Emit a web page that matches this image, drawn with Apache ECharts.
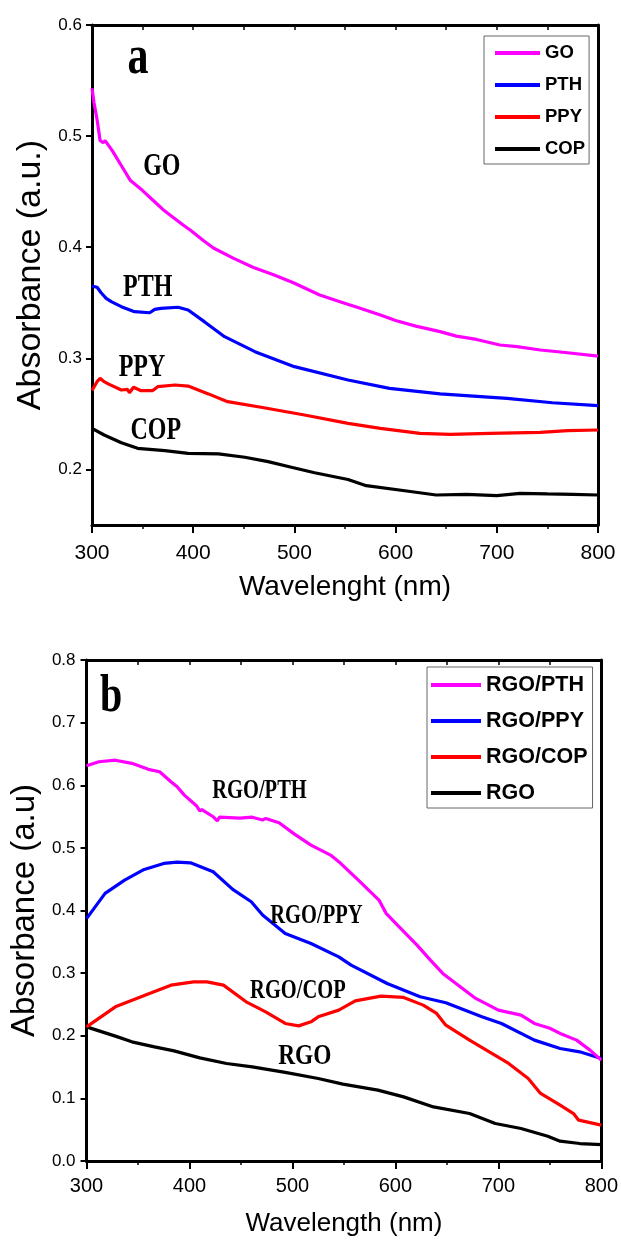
<!DOCTYPE html>
<html><head><meta charset="utf-8">
<script src="https://cdn.jsdelivr.net/npm/echarts@6/dist/echarts.min.js"></script>
<style>html,body{margin:0;padding:0;background:#fff}#c{width:621px;height:1243px}</style>
</head><body><div id="c"></div><script>
// ---------- Panel a data ----------
const goX  = [300,302,305,308,311,313,320,330,338,350,360,370,380,390,397,410,420,440,459,480,499,525,545,565,585,600,620,644,660,680,703,720,743,770,800];
const goY  = [0.543,0.53,0.515,0.496,0.494,0.496,0.487,0.472,0.46,0.451,0.4425,0.434,0.427,0.42,0.4155,0.406,0.3993,0.39,0.382,0.375,0.368,0.357,0.351,0.345,0.339,0.334,0.329,0.324,0.32,0.317,0.312,0.3105,0.3075,0.305,0.302];
const pthX = [300,305,309,314,319,329,342,357,362,368,385,395,411,431,461,500,553,594,644,710,755,800];
const pthY = [0.365,0.364,0.359,0.354,0.351,0.3465,0.342,0.341,0.344,0.345,0.346,0.3435,0.333,0.3195,0.306,0.2925,0.2805,0.273,0.268,0.264,0.26,0.2575];
const ppyX = [300,305,308,312,316,329,335,337,341,348,360,365,382,395,415,434,467,510,553,585,624,654,693,743,770,800];
const ppyY = [0.271,0.279,0.282,0.279,0.277,0.2715,0.272,0.269,0.274,0.271,0.271,0.2745,0.276,0.275,0.268,0.261,0.256,0.249,0.2415,0.237,0.2325,0.2316,0.2325,0.2334,0.235,0.2355];
const copX = [300,312,329,345,372,395,425,451,474,497,520,553,571,611,640,670,700,723,750,775,800];
const copY = [0.237,0.231,0.224,0.219,0.217,0.2145,0.214,0.211,0.207,0.202,0.197,0.191,0.1854,0.1806,0.177,0.1775,0.1764,0.1785,0.178,0.1776,0.177];

// ---------- Panel b data ----------
const rPthX = [300,312,328,344,360,371,382,388,395,407,410,412,423,427,429,449,461,471,474,487,502,518,537,545,564,584,591,602,621,634,646,678,700,722,735,750,760,776,789,800];
const rPthY = [0.631,0.6375,0.640,0.635,0.6254,0.6216,0.6056,0.5976,0.5843,0.5668,0.559,0.561,0.5497,0.543,0.549,0.5476,0.549,0.5444,0.547,0.54,0.522,0.5045,0.4885,0.478,0.4486,0.4166,0.3954,0.3767,0.3447,0.3208,0.2995,0.2596,0.2409,0.2329,0.2196,0.212,0.2037,0.193,0.177,0.161];
const rPpyX = [300,318,337,356,375,388,401,423,442,460,471,493,518,545,557,592,624,649,684,703,735,760,779,800];
const rPpyY = [0.387,0.4273,0.4486,0.4656,0.4752,0.4773,0.4762,0.4618,0.4337,0.4139,0.3927,0.3634,0.3474,0.326,0.3128,0.2835,0.2622,0.2526,0.2302,0.2196,0.193,0.1797,0.1743,0.1637];
const rCopX = [300,328,363,382,404,417,433,455,474,493,506,518,525,545,561,586,608,627,640,649,672,710,729,741,760,773,778,800];
const rCopY = [0.2142,0.2462,0.2685,0.2808,0.2861,0.2861,0.2808,0.2542,0.2382,0.2196,0.2158,0.2222,0.2302,0.2409,0.2558,0.2633,0.2612,0.2489,0.2356,0.2169,0.193,0.1557,0.1318,0.1078,0.0891,0.0758,0.0652,0.0572];
const rgoX = [300,328,344,366,385,410,436,461,493,525,549,583,608,637,672,697,722,748,760,779,800];
const rgoY = [0.2142,0.1994,0.1903,0.1823,0.1759,0.1647,0.1557,0.1504,0.1414,0.1318,0.1227,0.1131,0.1024,0.0864,0.0758,0.0599,0.0519,0.0396,0.0316,0.0279,0.0263];

const namesA = ['GO','PTH','PPY','COP'];
const namesB = ['RGO/PTH','RGO/PPY','RGO/COP','RGO'];
const colors = ['#FF00FF','#0000FF','#FF0000','#000000'];
const yTicksA = [0.2,0.3,0.4,0.5,0.6];

// annotations: [text, wavelength, absorbance]
const annotA = [['a',345.5,0.5694],['GO',369,0.4722],['PTH',355,0.3633],['PPY',349.4,0.2913],['COP',363,0.2349]];
const annotB = [['b',323.8,0.7393],['RGO/PTH',468,0.5907],['RGO/PPY',523.3,0.391],['RGO/COP',505.3,0.2712],['RGO',512,0.1674]];

const zip = (xs, ys) => xs.map((x, i) => [x, ys[i]]);
const SANS = "'Liberation Sans', Arial, sans-serif";
const SERIF = "'Liberation Serif', 'Times New Roman', serif";

const chart = echarts.init(document.getElementById('c'), null, {renderer: 'canvas'});

function bottomX(gi, name, fs, margin, gap, nfs) {
  return {
    type: 'value', gridIndex: gi, position: 'bottom', min: 300, max: 800, interval: 100,
    axisLine: {show: true, onZero: false, lineStyle: {color: '#000', width: 3}},
    axisTick: {show: true, inside: false, length: 8, lineStyle: {color: '#000', width: 2}},
    minorTick: {show: true, splitNumber: 2, length: 4, lineStyle: {color: '#000', width: 1.5}},
    axisLabel: {fontSize: fs, color: '#000', margin: margin, fontFamily: SANS},
    splitLine: {show: false},
    name: name, nameLocation: 'middle', nameGap: gap,
    nameTextStyle: {fontSize: nfs, color: '#000', fontFamily: SANS}
  };
}
function topX(gi) {
  return {
    type: 'value', gridIndex: gi, position: 'top', min: 300, max: 800, interval: 50,
    axisLine: {show: true, onZero: false, lineStyle: {color: '#000', width: 3}},
    axisTick: {show: true, inside: true, length: 5, lineStyle: {color: '#000', width: 1.5}},
    axisLabel: {show: false}, splitLine: {show: false}
  };
}
function rightY(gi, min, max, interval) {
  return {
    type: 'value', gridIndex: gi, position: 'right', min: min, max: max, interval: interval,
    axisLine: {show: true, onZero: false, lineStyle: {color: '#000', width: 3}},
    axisTick: {show: false}, axisLabel: {show: false}, splitLine: {show: false}
  };
}

const seriesA = [[goX,goY],[pthX,pthY],[ppyX,ppyY],[copX,copY]].map((d, i) => ({
  name: namesA[i], type: 'line', xAxisIndex: 0, yAxisIndex: 0, data: zip(d[0], d[1]),
  showSymbol: false, symbol: 'none', smooth: false,
  lineStyle: {color: colors[i], width: 3.2}, itemStyle: {color: colors[i]}, z: 10 - i
}));
const seriesB = [[rPthX,rPthY],[rPpyX,rPpyY],[rCopX,rCopY],[rgoX,rgoY]].map((d, i) => ({
  name: namesB[i], type: 'line', xAxisIndex: 2, yAxisIndex: 2, data: zip(d[0], d[1]),
  showSymbol: false, symbol: 'none', smooth: false,
  lineStyle: {color: colors[i], width: 3.2}, itemStyle: {color: colors[i]}, z: 10 - i
}));

const option = {
  animation: false,
  backgroundColor: '#fff',
  grid: [
    {left: 92, top: 25, width: 506, height: 500, containLabel: false},
    {left: 78, top: 660, width: 525, height: 501, containLabel: false}
  ],
  xAxis: [
    bottomX(0, 'Wavelenght (nm)', 21, 18, 48, 28),
    topX(0),
    bottomX(1, 'Wavelength (nm)', 20, 15, 50, 26),
    topX(1)
  ],
  yAxis: [
    {
      type: 'value', gridIndex: 0, position: 'left', min: 0.15, max: 0.6, interval: 0.05,
      axisLine: {show: true, onZero: false, lineStyle: {color: '#000', width: 3}},
      axisTick: {show: true, inside: false, length: 6, customValues: yTicksA, lineStyle: {color: '#000', width: 2}},
      axisLabel: {fontSize: 17, color: '#000', margin: 10, fontFamily: SANS, customValues: yTicksA,
        formatter: v => (Math.abs(v * 10 - Math.round(v * 10)) < 1e-6 ? v.toFixed(1) : '')},
      splitLine: {show: false},
      name: 'Absorbance (a.u.)', nameLocation: 'middle', nameGap: 33,
      nameTextStyle: {fontSize: 34, color: '#000', fontFamily: SANS}
    },
    rightY(0, 0.15, 0.6, 0.05),
    {
      type: 'value', gridIndex: 1, position: 'left', min: 0, max: 0.8, interval: 0.1,
      axisLine: {show: true, onZero: false, lineStyle: {color: '#000', width: 3}},
      axisTick: {show: true, inside: false, length: 6, lineStyle: {color: '#000', width: 2}},
      axisLabel: {fontSize: 17, color: '#000', margin: 11, fontFamily: SANS, formatter: v => v.toFixed(1)},
      splitLine: {show: false},
      name: 'Absorbance (a.u)', nameLocation: 'middle', nameGap: 31,
      nameTextStyle: {fontSize: 33, color: '#000', fontFamily: SANS}
    },
    rightY(1, 0, 0.8, 0.1)
  ],
  legend: [
    {
      data: namesA, left: 484, top: 36, orient: 'vertical', icon: 'rect',
      itemWidth: 45, itemHeight: 4, itemGap: 12,
      padding: [7, 4, 5, 11], borderColor: '#666', borderWidth: 1, backgroundColor: '#fff',
      textStyle: {fontSize: 18.5, fontWeight: 'bold', color: '#000', fontFamily: SANS, lineHeight: 20}
    },
    {
      data: namesB, left: 427, top: 667, orient: 'vertical', icon: 'rect',
      itemWidth: 50, itemHeight: 4, itemGap: 12,
      padding: [6, 5, 3, 4], borderColor: '#666', borderWidth: 1, backgroundColor: '#fff',
      textStyle: {fontSize: 21.5, fontWeight: 'bold', color: '#000', fontFamily: SANS, lineHeight: 24}
    }
  ],
  series: seriesA.concat(seriesB)
};
chart.setOption(option);

function annot(list, seriesIndex, baseSize, bigSize, scaleY, extraSizes) {
  return list.map((a, i) => {
    const p = chart.convertToPixel({seriesIndex: seriesIndex}, [a[1], a[2]]);
    let fs = i === 0 ? bigSize : baseSize;
    if (extraSizes && extraSizes[a[0]]) fs = extraSizes[a[0]];
    return {
      type: 'text', x: p[0], y: p[1], scaleY: scaleY, z: 100,
      style: {text: a[0], x: 0, y: 0, align: 'center', verticalAlign: 'middle',
        font: 'bold ' + fs + 'px ' + SERIF, fill: '#000'}
    };
  });
}
chart.setOption({
  graphic: annot(annotA, 0, 24, 42, 1.3).concat(annot(annotB, 4, 20.5, 40, 1.3, {'RGO': 23.4}))
});
</script></body></html>
